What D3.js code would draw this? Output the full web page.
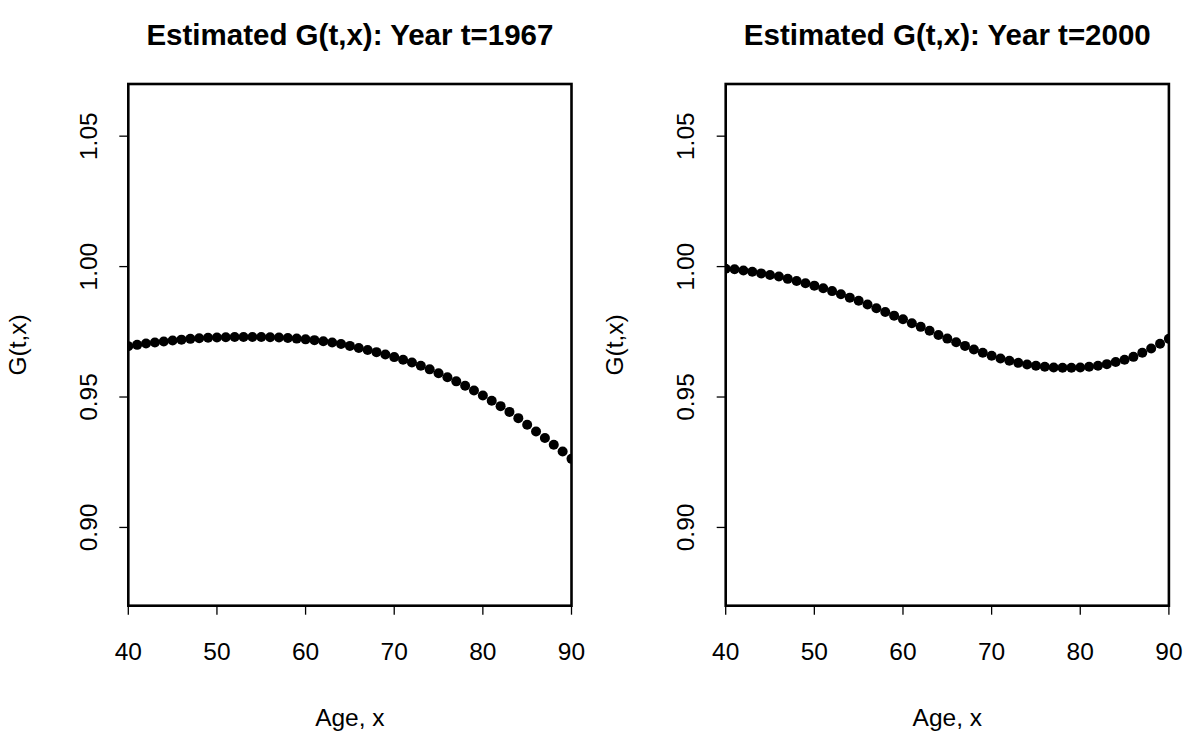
<!DOCTYPE html>
<html>
<head>
<meta charset="utf-8">
<script src="https://cdn.jsdelivr.net/npm/d3@7/dist/d3.min.js"></script>
<style>
  body { margin: 0; background: #fff; }
  text { font-family: "Liberation Sans", Arial, Helvetica, sans-serif; fill: #000; }
  .title { font-weight: bold; font-size: 29.5px; }
  .tick-label, .axis-title { font-size: 24.5px; }
</style>
</head>
<body>
<div id="chart"></div>
<script>
// ages 40..90, one estimate per year
const ages = d3.range(40, 91);

const g1967 = [
  0.9695, 0.9700, 0.9705, 0.9709, 0.9713, 0.9717, 0.9720, 0.9723, 0.9725, 0.9727,
  0.9728, 0.9729, 0.9730, 0.9730, 0.9730, 0.9730, 0.9729, 0.9728, 0.9726, 0.9724,
  0.9721, 0.9718, 0.9714, 0.9709, 0.9703, 0.9696, 0.9688, 0.9680, 0.9672, 0.9663,
  0.9653, 0.9643, 0.9632, 0.9620, 0.9606, 0.9591, 0.9576, 0.9560, 0.9543, 0.9525,
  0.9506, 0.9486, 0.9465, 0.9443, 0.9419, 0.9394, 0.9368, 0.9343, 0.9317, 0.9291,
  0.9263
];

const g2000 = [
  0.9992, 0.9990, 0.9985, 0.9980, 0.9974, 0.9968, 0.9962, 0.9953, 0.9945, 0.9936,
  0.9927, 0.9917, 0.9906, 0.9894, 0.9881, 0.9869, 0.9855, 0.9840, 0.9826, 0.9812,
  0.9798, 0.9783, 0.9769, 0.9754, 0.9738, 0.9724, 0.9710, 0.9696, 0.9682, 0.9670,
  0.9658, 0.9648, 0.9639, 0.9631, 0.9625, 0.9620, 0.9616, 0.9613, 0.9612, 0.9612,
  0.9613, 0.9616, 0.9620, 0.9626, 0.9634, 0.9643, 0.9654, 0.9670, 0.9686, 0.9704,
  0.9723
];

const xTicks = [40, 50, 60, 70, 80, 90];
const yTicks = [0.90, 0.95, 1.00, 1.05];
const xDomain = [40, 90];
const yDomain = [0.87, 1.07];

const titles = ["Estimated G(t,x): Year t=1967", "Estimated G(t,x): Year t=2000"];
const xLabel = "Age, x";
const yLabel = "G(t,x)";

const W = 1190, H = 733;
const panelW = 597.4;
// plot region inside each panel
const margin = { top: 84, left: 128.3, width: 443.2, height: 521.7 };

const svg = d3.select("#chart")
  .append("svg")
  .attr("width", W)
  .attr("height", H);

svg.append("rect").attr("width", W).attr("height", H).attr("fill", "#fff");

function drawPanel(offsetX, values, title) {
  const g = svg.append("g").attr("transform", "translate(" + offsetX + ",0)");

  const x = d3.scaleLinear()
    .domain(xDomain)
    .range([margin.left, margin.left + margin.width]);
  const y = d3.scaleLinear()
    .domain(yDomain)
    .range([margin.top + margin.height, margin.top]);

  const bottom = margin.top + margin.height;

  // title, centred over the plot region (R style)
  g.append("text")
    .attr("class", "title")
    .attr("x", margin.left + margin.width / 2)
    .attr("y", 45)
    .attr("text-anchor", "middle")
    .text(title);

  // x axis: ticks only, the box supplies the line
  g.selectAll(".xtick")
    .data(xTicks)
    .enter()
    .append("line")
    .attr("x1", d => x(d))
    .attr("x2", d => x(d))
    .attr("y1", bottom)
    .attr("y2", bottom + 9)
    .attr("stroke", "#000")
    .attr("stroke-width", 1.3);

  g.selectAll(".xlab")
    .data(xTicks)
    .enter()
    .append("text")
    .attr("class", "tick-label")
    .attr("x", d => x(d))
    .attr("y", 660)
    .attr("text-anchor", "middle")
    .text(d => d);

  // y axis
  g.selectAll(".ytick")
    .data(yTicks)
    .enter()
    .append("line")
    .attr("x1", margin.left - 9)
    .attr("x2", margin.left)
    .attr("y1", d => y(d))
    .attr("y2", d => y(d))
    .attr("stroke", "#000")
    .attr("stroke-width", 1.3);

  g.selectAll(".ylab")
    .data(yTicks)
    .enter()
    .append("text")
    .attr("class", "tick-label")
    .attr("transform", d => "translate(96.5," + y(d) + ") rotate(-90)")
    .attr("text-anchor", "middle")
    .text(d => d3.format(".2f")(d));

  // axis titles
  g.append("text")
    .attr("class", "axis-title")
    .attr("x", margin.left + margin.width / 2)
    .attr("y", 726)
    .attr("text-anchor", "middle")
    .text(xLabel);

  g.append("text")
    .attr("class", "axis-title")
    .attr("transform", "translate(26," + (margin.top + margin.height / 2) + ") rotate(-90)")
    .attr("text-anchor", "middle")
    .text(yLabel);

  // points, clipped to the plot box like R does
  const clipId = "clip" + Math.round(offsetX);
  g.append("clipPath")
    .attr("id", clipId)
    .append("rect")
    .attr("x", margin.left)
    .attr("y", margin.top)
    .attr("width", margin.width)
    .attr("height", margin.height);

  g.append("g")
    .attr("clip-path", "url(#" + clipId + ")")
    .selectAll("circle")
    .data(ages.map((a, i) => ({ age: a, v: values[i] })))
    .enter()
    .append("circle")
    .attr("cx", d => x(d.age))
    .attr("cy", d => y(d.v))
    .attr("r", 5)
    .attr("fill", "#000");

  // box
  g.append("rect")
    .attr("x", margin.left)
    .attr("y", margin.top)
    .attr("width", margin.width)
    .attr("height", margin.height)
    .attr("fill", "none")
    .attr("stroke", "#000")
    .attr("stroke-width", 2.6);
}

drawPanel(0, g1967, titles[0]);
drawPanel(panelW, g2000, titles[1]);
</script>
</body>
</html>
